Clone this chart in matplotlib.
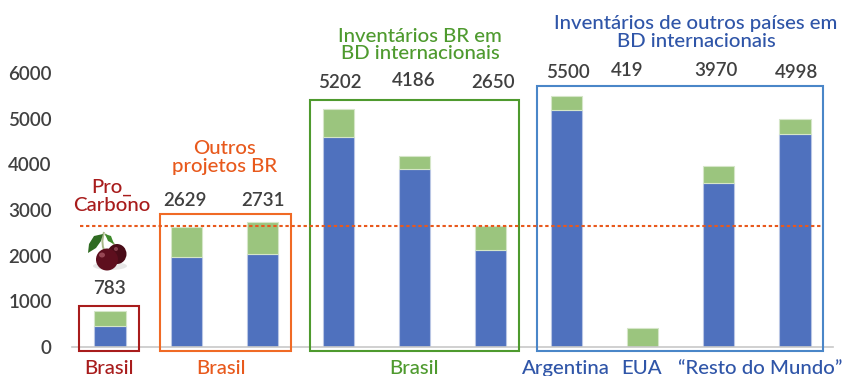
import matplotlib
matplotlib.use("Agg")
import matplotlib.pyplot as plt
from matplotlib.patches import Rectangle, Ellipse, Polygon, PathPatch
from matplotlib.path import Path
import numpy as np

plt.rcParams['font.family'] = ['Lato', 'DejaVu Sans']
plt.rcParams['font.weight'] = 'medium'

W, H = 842, 376

# inventory counts per bar, blue part and total stack height
totals = [783, 2629, 2731, 5202, 4186, 2650, 5500, 419, 3970, 4998]
blue = [460, 1975, 2030, 4600, 3890, 2120, 5185, 0, 3590, 4660]
green = [t - b for t, b in zip(totals, blue)]
yticks = [0, 1000, 2000, 3000, 4000, 5000, 6000]
reference_line = 2650

# where the value labels sit, in pixels
label_x = [109, 185, 263, 340, 414, 493, 568, 627, 716, 797]
label_y = [289, 200, 200, 83, 81, 83, 72, 71, 71, 72]

RED = '#A81C1C'
ORANGE = '#E8591C'
GREEN = '#4E9A2E'
NAVY = '#2F55A8'
TEXT = '#404040'
LABEL_SIZE = 14.7

fig = plt.figure(figsize=(W / 100, H / 100), dpi=100)

# chart axes: baseline at y=347, 6000 at y=73, x from 72 to 833
ax = fig.add_axes([72 / W, 1 - 347 / H, (833 - 72) / W, (347 - 73) / H])
x = np.arange(len(totals))
ax.bar(x, blue, width=0.41, color='#4F71BE', edgecolor='#B9C6E4', linewidth=0.8)
ax.bar(x, green, width=0.41, bottom=blue, color='#9BC57E', edgecolor='#D5E6C8', linewidth=0.8)
ax.set_xlim(-0.5, 9.5)
ax.set_ylim(0, 6000)
for s in ['top', 'left', 'right']:
    ax.spines[s].set_visible(False)
ax.spines['bottom'].set_color('#C8C8C8')
ax.spines['bottom'].set_linewidth(1.2)
ax.set_xticks([])
ax.set_yticks(yticks)
ax.tick_params(axis='y', length=0, pad=14.5, labelsize=13.5, labelcolor=TEXT)
for tick in ax.get_yticklabels():
    tick.set_fontweight('semibold')
ax.patch.set_alpha(0)

# overlay in pixel coordinates for boxes, notes and the cherry
ov = fig.add_axes([0, 0, 1, 1])
ov.set_xlim(0, W)
ov.set_ylim(H, 0)
ov.axis('off')
ov.patch.set_alpha(0)

# dotted line at the reference value
line_y = 347 - reference_line * (347 - 73) / 6000
ov.plot([80, 823], [line_y, line_y], color=ORANGE, linewidth=1.5, linestyle=(0, (1.6, 1.3)))

boxes = [(79, 306, 60, 45, RED), (160, 214, 131, 137, '#F06A25'),
         (310, 100, 209, 251, GREEN), (537, 86, 286, 265, '#4A86C8')]
for bx, by, bw, bh, col in boxes:
    ov.add_patch(Rectangle((bx, by), bw, bh, fill=False, edgecolor=col, linewidth=1.5))

for lx, ly, val in zip(label_x, label_y, totals):
    ov.text(lx, ly, str(val), ha='center', va='center', fontsize=13.5, color=TEXT,
            fontweight='semibold')

# group titles
ov.text(420, 45, 'Inventários BR em\nBD internacionais', ha='center', va='center',
        fontsize=LABEL_SIZE, color=GREEN, linespacing=1.03)
ov.text(696, 32.5, 'Inventários de outros países em\nBD internacionais', ha='center', va='center',
        fontsize=LABEL_SIZE, color=NAVY, linespacing=1.03)
ov.text(225, 157.5, 'Outros\nprojetos BR', ha='center', va='center',
        fontsize=LABEL_SIZE, color=ORANGE, linespacing=1.08)
ov.text(112, 196.5, 'Pro_\nCarbono', ha='center', va='center',
        fontsize=LABEL_SIZE, color=RED, linespacing=1.08)

# labels under the bars
under = [(109, 'Brasil', RED), (221, 'Brasil', ORANGE), (414, 'Brasil', GREEN),
         (566, 'Argentina', NAVY), (642, 'EUA', NAVY), (760, '“Resto do Mundo”', NAVY)]
for ux, txt, col in under:
    ov.text(ux, 368.5, txt, ha='center', va='center', fontsize=LABEL_SIZE, color=col)

# cherry
ov.add_patch(Ellipse((110, 266), 34, 8, color='#D8D8D8', alpha=0.6, lw=0))
for verts in [[(104, 232), (100, 245), (106, 254)], [(105, 234), (111, 240), (117, 248)]]:
    ov.add_patch(PathPatch(Path(verts, [Path.MOVETO, Path.CURVE3, Path.CURVE3]),
                           fill=False, edgecolor='#A9B98A', linewidth=1.4))
ov.add_patch(Polygon([(103, 234), (94, 236), (89, 244), (88, 253), (96, 248), (101, 241)],
                     closed=True, facecolor='#2F6B22', edgecolor='none'))
ov.add_patch(Polygon([(105, 234), (111, 236), (114, 244), (108, 241)],
                     closed=True, facecolor='#3F8A2C', edgecolor='none'))
ov.add_patch(Ellipse((117, 254), 19, 20, facecolor='#4A0C18', edgecolor='none'))
ov.add_patch(Ellipse((107, 259.5), 22, 22, facecolor='#5E0F1E', edgecolor='none'))
ov.add_patch(Ellipse((102, 255), 6, 5, facecolor='#B0606C', edgecolor='none', alpha=0.7))
ov.add_patch(Ellipse((116, 249), 4, 4, facecolor='#A05562', edgecolor='none', alpha=0.7))

fig.savefig('out.png', dpi=100)
